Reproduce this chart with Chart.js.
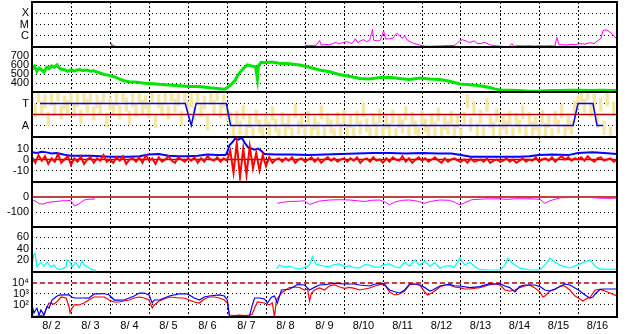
<!DOCTYPE html>
<html>
<head>
<meta charset="utf-8">
<script src="https://cdn.jsdelivr.net/npm/chart.js@4.4.1/dist/chart.umd.min.js"></script>
<style>
  html, body { margin: 0; padding: 0; background: #fff; }
  #wrap { position: relative; width: 628px; height: 334px; overflow: hidden; }
  #wrap canvas { position: absolute; left: 0; }
</style>
</head>
<body>
<div id="wrap"></div>
<script>
// x axis: hours since 8/2 00:00 UT, 15 days shown
const days = ['8/ 2','8/ 3','8/ 4','8/ 5','8/ 6','8/ 7','8/ 8','8/ 9','8/10','8/11','8/12','8/13','8/14','8/15','8/16'];

// --- X-ray flux (W/m2), [hour, value], null = no data
const xrayFlux = [
  [48.5,1.1e-7],[49,2.1e-7],[49.6,1.2e-7],[51,1.3e-7],[52,null],
  [162.8,1.2e-7],[166,null],[168,1.3e-7],[170,1.4e-7],[173,1.3e-7],[175,1.5e-7],[177,3.8e-7],[178,1.4e-7],
  [180,1.7e-7],[182.5,1.6e-7],[185,2.0e-7],[187,2.6e-7],[188.6,1.9e-7],[191,2.4e-7],[193.6,3.0e-7],
  [195.4,2.5e-7],[197,2.0e-7],[199,5.5e-7],[200.4,2.4e-7],[202,3.5e-7],[204,4.5e-7],[206,3.0e-7],
  [207.8,4.0e-7],[209.6,3.8e-6],[210.2,4.0e-7],[212.7,3.5e-7],[214.5,4.2e-7],[216.4,2.8e-6],[217.6,5.0e-7],
  [220,5.5e-7],[222,6.0e-7],[223.8,1.4e-6],[225,1.6e-6],[226.3,9.0e-7],[228,6.0e-7],[229.3,1.0e-6],
  [231,4.0e-7],[233,2.8e-7],[235,2.0e-7],[236.7,1.8e-7],[238.6,1.5e-7],[241.7,1.2e-7],[244.8,1.15e-7],
  [247.8,1.2e-7],[251,1.25e-7],[254,1.3e-7],[257,1.35e-7],[260,1.4e-7],[261.4,2.0e-7],[263.3,3.8e-7],
  [265,4.4e-7],[267.6,3.2e-7],[269.4,2.5e-7],[272,3.5e-7],[273.7,2.2e-7],[276.2,2.0e-7],[278.7,2.6e-7],
  [281.7,1.6e-7],[284.8,1.3e-7],[288,1.2e-7],[289.8,1.15e-7],[291,null],
  [294,1.2e-7],[295.3,2.0e-7],[296.5,1.2e-7],[300,1.3e-7],[303.3,1.25e-7],[306.4,1.3e-7],[309.5,1.2e-7],
  [312.6,1.3e-7],[315.6,1.25e-7],[318.7,1.3e-7],[321.8,1.2e-7],[323,7.0e-7],[324.3,1.6e-7],[326.7,1.6e-7],
  [329.2,1.5e-7],[331.7,1.7e-7],[334,1.6e-7],[337.2,2.0e-7],[340.3,1.8e-7],[343.4,2.4e-7],[345.9,2.0e-7],
  [348.3,3.8e-7],[350.2,6.0e-7],[351.4,2.9e-6],[353.2,3.3e-6],[354.4,2.8e-6],[356.3,1.8e-6],[358.1,9.0e-7],
  [360,5.0e-7]
];
const xrayTicks = [1e-6, 1e-5, 1e-4];
const xrayTickLabels = ['C', 'M', 'X'];

// --- solar wind speed (km/s)
const windSpeed = [
  [0,550],[1.5,585],[3,530],[4.3,565],[6,545],[7.4,520],[9,575],[10.5,560],[12,590],[13.6,575],[15.4,600],
  [16.5,570],[17.9,555],[20.3,545],[22,530],[24,545],[26,535],[29,550],[31,540],[34,545],[36,530],[38,535],
  [41.3,515],[44.4,495],[47.5,485],[50.6,470],[53.6,445],[56.7,425],[59.8,415],[63,410],[66,405],[69,398],
  [72,395],[78.3,385],[84.5,378],[90.6,370],[96.8,362],[103,360],[109,348],[114,340],[118.4,330],[120,345],
  [122.7,385],[125,430],[126.5,480],[127.6,510],[130,560],[132.5,600],[135,590],[137.5,580],[138.7,445],
  [139.3,590],[141,630],[143.6,625],[147.3,632],[152,620],[158.4,615],[164.6,600],[170.8,575],[177,545],
  [183,525],[189,495],[195.4,475],[201.6,450],[207.8,445],[214,460],[220,465],[226,450],[232.4,440],
  [238.6,455],[244.8,445],[251,440],[257,420],[263.3,390],[269.4,380],[275.6,370],[281.7,350],[284.8,335],
  [288,322],[294,320],[300,318],[306.4,308],[312.6,310],[318.7,318],[325,318],[331,320],[337.2,320],
  [343.4,318],[349.6,320],[360,318]
];
const speedTicks = [400, 500, 600, 700];

// --- IMF sector: T = toward (1), A = away (-1)
const sectorPolarity = [[4.9,1],[94.3,1],[98,-1],[101,1],[119.6,1],[122.2,-1],[333,-1],[336,1],[345.2,1],[347.7,-1],[351.4,-1]];
const sectorZero = [[0,0],[360,0]];
// raw field angle samples, one every 2 h
const angleStep = 2;
const angleRaw = [
  1.5,0.3,1.7,0.6,1.2,-0.4,1.4,0.5,1.8,0.2,1.1,0.7,1.6,
  0.4,1.3,-0.2,1.5,0.8,1.7,0.1,1.2,0.6,1.6,-0.5,1.0,
  0.5,1.4,0.2,1.8,0.9,-0.3,1.3,0.4,1.6,0.7,1.1,0.3,
  1.7,-0.6,1.2,0.5,1.5,0.2,1.8,0.8,1.4,-0.3,1.6,0.6,
  1.3,0.1,1.7,0.4,1.1,-0.8,1.5,0.7,1.9,0.3,1.2,0.0,
  -0.4,-1.6,-0.3,-1.2,0.2,-1.5,-0.6,-1.8,-0.2,-1.1,-1.7,-0.5,
  -1.3,0.1,-1.0,-1.9,-0.4,-1.4,-0.7,-1.8,0.3,-1.2,-0.6,-1.5,
  -0.3,-1.7,-0.8,-1.3,0.2,-1.6,-0.5,-1.1,-1.9,-0.4,-1.4,-0.2,
  -1.5,-0.6,-1.8,-0.3,-1.2,0.4,-1.0,-1.6,-0.5,-1.3,-0.1,-1.7,
  -0.7,-1.4,-0.2,-1.9,-0.6,-1.1,0.1,-1.5,-0.4,-1.2,-1.8,-0.3,
  -1.0,-1.6,-0.5,-1.3,0.0,-1.7,-0.8,-1.2,-0.3,-1.5,-0.6,-1.9,
  -0.4,1.2,-0.9,0.6,-1.4,-0.2,-1.7,0.9,-0.6,-1.3,-0.1,-1.5,
  -0.7,-1.2,-0.3,-1.8,-0.5,-1.1,0.2,-1.6,-0.4,-1.3,-0.8,-1.7,
  -0.2,-1.4,-0.6,-1.9,-0.3,-1.1,0.3,-1.5,-0.7,-1.2,0.6,1.1,
  1.7,0.8,1.9,0.4,1.3,-0.6,0.9,-1.2,1.4,-1.7,0.5,-0.9
];
const sectorTicks = [-1, 1];
const sectorTickLabels = ['A', 'T'];

// --- IMF Bt (nT)
const imfBt = [
  [0,6.5],[3,6],[6,7],[9,6.5],[12,5.5],[15,6],[18,5],[21,4],[24,3.5],[30,3.5],[36,3.5],[42,3],[48,2.5],
  [54,2.5],[60,2.5],[66,3],[72,4.5],[78,5],[84,3.5],[90,3],[96,3],[102,3.5],[108,4.5],[114,4],[119,4],
  [120,6],[121.5,13],[123.5,16],[125,19],[127,18],[129,20],[131,15],[133,11],[135,10],[137,9],[139,10],
  [141,8],[143,5],[150,4.5],[160,4.5],[170,4],[180,4.5],[190,5],[200,5.5],[210,6],[220,6],[230,5.5],
  [240,6],[250,5.5],[258,5.5],[264,4],[270,2.5],[280,2.5],[290,2.5],[300,2.5],[306,3],[312,4],[320,4.5],
  [330,4],[336,6],[345,6.5],[352,6],[360,5]
];
// --- IMF Bz (nT), one sample every 2 h
const bzStep = 2;
const imfBz = [
  2,-3,4,-1,3,-4,1,-2,5,-3,0,3,-5,
  1,-2,3,-4,0,2,-3,1,-1,4,-2,0,
  -3,2,-1,3,-4,0,1,-2,2,-3,4,-1,
  1,-4,2,-2,0,3,-1,-3,2,0,-2,1,
  -1,2,-3,1,-2,3,0,-1,2,-2,1,-1,
  8,-12,15,-16,10,-14,12,-8,6,-10,4,-6,
  2,-3,0,1,-2,1,-1,2,-3,0,1,-2,
  0,2,-2,1,-3,0,2,-1,1,-2,0,1,
  -2,1,-1,2,-3,0,1,-2,2,-1,0,-3,
  1,-2,2,0,-1,3,-2,1,-3,0,2,-1,
  1,-2,0,2,-1,-3,1,-2,0,1,-1,-2,
  0,-3,1,-2,-1,0,-2,1,-3,-1,0,-2,
  -1,1,-2,0,-3,-1,1,-2,0,-1,2,-2,
  0,1,-1,2,-2,1,3,0,2,-1,1,0,
  2,-1,3,0,-2,1,2,-1,0,1,-2,0
];
const bzZero = [[0,0],[360,0]];
const bzTicks = [-10, 0, 10];

// --- Dst index (nT)
const dstIndex = [
  [0,-20],[2.5,-30],[4.3,-45],[6.8,-47],[9.2,-38],[11.7,-33],[14.8,-30],[17.9,-26],[21,-25],[23.4,-22],
  [24.7,-35],[26,-60],[27.7,-52],[29.6,-40],[32,-20],[35,-15],[38.8,-13],[40,null],
  [151,-42],[154,-35],[158.4,-30],[164.6,-28],[167.7,-25],[170.8,-50],[173.8,-38],[177,-27],[183,-20],
  [189.3,-18],[195.4,-20],[200.4,-25],[204.7,-30],[209,-22],[214,-20],[217.6,-35],[220,-52],[223,-35],
  [227.5,-22],[232.4,-20],[237.4,-28],[241.7,-42],[244.8,-30],[251,-20],[257,-22],[260,-35],[263.3,-52],
  [266.3,-38],[270.6,-18],[278.7,-13],[288,-12],[292.2,-16],[297,-12],[306.4,-12],[312.6,-15],[315.6,-42],
  [318.7,-25],[325,-5],[334,-3],[343.4,-3],[349.6,-8],[355.7,-9],[360,-7]
];
const dstZero = [[0,0],[360,0]];
const dstTicks = [-100, 0];

// --- activity index
const activity = [
  [0,12],[1.2,30],[1.8,33],[3.1,9],[5.5,17],[7.4,10],[9.2,17],[11.7,9],[13.6,12],[15.4,5],[18.5,5],[21,9],
  [21.6,21],[23.4,17],[24.7,9],[27,17],[29,7],[30.8,19],[32,12],[34,9],[36.4,5],[39.5,2],[41,null],
  [150.4,6],[152.3,12],[155.4,9],[158.4,10],[161.5,7],[164.6,5],[167.7,8],[170.8,12],[172.6,27],[174.5,14],
  [177,12],[180,10],[183,9],[186,13],[189.3,14],[192.3,9],[195.4,11],[198.5,7],[201.6,7],[204.7,13],
  [207.8,12],[211,8],[214,9],[217,13],[220,14],[223,9],[226.3,7],[229.3,17],[232.4,10],[235.5,21],
  [238.6,12],[241.7,19],[244.8,10],[247.8,16],[251,7],[254,10],[257,11],[260,8],[263.3,24],[266.3,12],
  [269.4,17],[272.5,9],[275.6,4],[281.7,3.5],[288,3.5],[291,12],[292.8,24],[295.3,16],[300,7],[306.4,3.5],
  [312.6,3.5],[315.6,12],[318.7,24],[321.8,17],[325,12],[331,7],[337.2,14],[343.4,21],[346.5,10],
  [349.6,5],[360,5]
];
const activityTicks = [20, 40, 60];

// --- electron flux, two channels
const electronBlue = [
  [0,100],[1.2,18],[2.5,40],[3.1,50],[4.3,12],[5.5,35],[7.4,12],[9.2,70],[10.5,53],[12.3,280],[14.8,560],
  [16.6,800],[19.7,810],[22.8,810],[24.7,500],[26,430],[29,430],[32,430],[35,420],[38.2,1000],[41.3,1000],
  [44.4,1100],[47.5,800],[50.6,280],[53.6,280],[56.7,283],[59.8,430],[62.9,650],[66,1200],[69,1230],
  [72,810],[74,150],[75.2,283],[78.3,283],[81.4,430],[84.5,650],[90.6,1000],[95.6,1000],[99.9,430],
  [103,283],[106,530],[109,650],[115.3,810],[118.4,650],[120.2,283],[121.5,9],[124.5,9],[127.6,9],
  [130.7,9.5],[133.8,9],[135.6,100],[137,430],[140,430],[143,350],[144.9,151],[147.3,500],[149.2,650],
  [151,151],[153.5,2300],[158.4,2700],[163.4,7200],[167.7,6570],[170.8,2300],[173.8,4000],[177,6570],
  [180,7000],[183,8100],[186,9600],[189.3,8800],[192.3,8100],[198.5,8100],[201.6,6570],[207.8,5330],
  [211,8100],[214,8800],[215.8,9600],[220,2300],[223.2,1600],[226.3,1230],[229.3,2300],[232.4,8100],
  [235.5,8100],[238.6,6570],[241.7,3800],[244.8,1870],[246.6,2300],[251,5330],[254,6570],[257,7500],
  [260,5300],[263.3,5330],[269.4,3800],[275.6,4700],[281.7,8800],[284.8,8100],[288,8800],[291,5330],
  [294,3800],[297.2,1520],[300,4700],[303.3,6570],[309.5,6570],[312.6,4700],[315.6,2300],[318.7,1870],
  [321.8,2800],[325,4700],[327.8,8100],[331,6570],[334.2,3500],[337.2,1870],[340.3,810],[343.4,430],
  [345.2,530],[346.5,1000],[349.6,2600],[352.6,2840],[360,2840]
];
const electronRed = [
  [0,12],[1.2,8.5],[4.3,10],[7.4,12],[9.2,65],[10.5,151],[13.6,122],[15.4,200],[17.9,530],[21,430],
  [22.8,65],[23.4,20],[24.7,53],[26,100],[29,100],[32,151],[35,283],[38.2,530],[41.3,530],[44.4,530],
  [47.5,283],[50.6,186],[53.6,186],[56.7,230],[59.8,283],[62.9,430],[66,530],[69,430],[72,283],[74,53],
  [75.2,100],[78.3,230],[81.4,350],[84.5,530],[90.6,430],[93.7,430],[96.8,283],[99.9,186],[103,151],
  [106,350],[109,530],[112.2,530],[115.3,430],[118.4,283],[120.2,151],[121.5,12],[124.5,11],[127.6,12],
  [130.7,11],[133.8,12],[135.6,15],[137,53],[138.7,186],[143,151],[146,100],[147.9,151],[149.2,8],
  [150.4,283],[153.5,1230],[158.4,3900],[161.5,4300],[164.6,3900],[167.7,2300],[169.6,2840],[170.8,230],
  [172,1230],[173.8,2300],[177,3500],[180,2300],[183,5330],[186,7000],[189.3,4300],[192.3,3200],
  [195.4,3900],[198.5,3200],[201.6,2300],[204.7,2840],[207.8,3500],[211,5330],[214,7000],[217,8100],
  [220,1500],[223.2,810],[226.3,1000],[229.3,1870],[232.4,7000],[235.5,8100],[238.6,6570],[241.7,1500],
  [243.5,810],[246,1230],[247.8,1870],[251,4300],[254,6570],[257,6570],[260,4300],[263.3,3800],
  [266.3,2840],[269.4,2840],[275.6,3800],[281.7,7000],[284.8,8100],[288,6570],[291,2300],[294,1870],
  [297.2,2300],[300,3800],[303.3,5330],[306.4,6570],[309.5,3500],[312.6,1500],[314.4,530],[315.6,650],
  [318.7,1870],[321.8,2600],[325,5330],[327.8,5330],[331,2300],[334.2,650],[337.2,350],[339,230],
  [341.5,400],[343.4,470],[346.5,2300],[349.6,2600],[352.6,1870],[355.7,1230],[360,650]
];
const fluxAlert = [[0,1e4],[360,1e4]];
const fluxTicks = [1e2, 1e3, 1e4];
const fluxTickLabels = ['10\u00b2', '10\u00b3', '10\u2074'];

Chart.defaults.font.family = "'Liberation Sans', Arial, sans-serif";
Chart.defaults.font.size = 11;
Chart.defaults.color = '#000';

const pairs = arr => arr.map(p => ({x: p[0], y: p[1]}));
const stepped = (vals, step) => vals.map((v, i) => ({x: i * step, y: v}));

// black box round every panel
const frame = {
  id: 'frame',
  afterDraw(chart) {
    const {ctx, chartArea: a} = chart;
    ctx.save();
    ctx.strokeStyle = '#000';
    ctx.lineWidth = 2;
    ctx.strokeRect(a.left, a.top, a.right - a.left, a.bottom - a.top);
    ctx.restore();
  }
};

const wrap = document.getElementById('wrap');

function line(data, color, width, extra) {
  return Object.assign({data, borderColor: color, borderWidth: width, pointRadius: 0, tension: 0, spanGaps: false}, extra || {});
}

function makePanel(idx, datasets, y, last) {
  const canvas = document.createElement('canvas');
  const h = last ? 63 : 47;
  canvas.width = 628;
  canvas.height = h;
  canvas.style.width = '628px';
  canvas.style.height = h + 'px';
  canvas.style.top = (1 + 45 * idx) + 'px';
  wrap.appendChild(canvas);

  const yTicks = y.ticks;
  const yLabels = y.labels;
  const hideAt = y.hideGridAt;

  return new Chart(canvas, {
    type: 'line',
    data: {datasets},
    options: {
      animation: false,
      responsive: false,
      devicePixelRatio: 1,
      layout: {autoPadding: false, padding: {top: 1, bottom: last ? 0 : 1, left: 0, right: 11}},
      plugins: {legend: {display: false}, tooltip: {enabled: false}},
      scales: {
        x: {
          type: 'linear', min: 0, max: 360,
          afterBuildTicks: s => {
            const t = [];
            for (let v = 0; v <= 360; v += (last ? 12 : 24)) t.push({value: v});
            s.ticks = t;
          },
          afterFit: s => { s.height = last ? 17 : 0; s.paddingLeft = 0; s.paddingRight = 0; },
          grid: {
            color: c => (c.tick && c.tick.value % 24 === 0) ? '#000' : 'rgba(0,0,0,0)',
            lineWidth: 1, drawTicks: false
          },
          border: {display: false, dash: [2, 2]},
          ticks: {
            display: !!last, autoSkip: false, maxRotation: 0, padding: 2,
            callback: v => (v % 24 === 12) ? days[(v - 12) / 24] : ''
          }
        },
        y: {
          type: y.type || 'linear', min: y.min, max: y.max,
          afterBuildTicks: s => { s.ticks = yTicks.map(v => ({value: v})); },
          afterFit: s => { s.width = 32; s.paddingTop = 0; s.paddingBottom = 0; },
          grid: {
            color: c => (hideAt !== undefined && c.tick && c.tick.value === hideAt) ? 'rgba(0,0,0,0)' : '#000',
            lineWidth: 1, drawTicks: false
          },
          border: {display: false, dash: [1, 3]},
          ticks: {
            padding: 3, autoSkip: false,
            callback: (v, i) => yLabels ? yLabels[i] : String(v)
          }
        }
      }
    },
    plugins: [frame]
  });
}

// 1: X-ray class
makePanel(0, [line(pairs(xrayFlux), '#ff00ff', 1)],
  {type: 'logarithmic', min: 1e-7, max: 1e-3, ticks: xrayTicks, labels: xrayTickLabels});

// 2: solar wind speed
makePanel(1, [line(pairs(windSpeed), '#00e600', 3)],
  {min: 300, max: 800, ticks: speedTicks});

// 3: sector, raw samples drawn as short vertical dashes
makePanel(2, [
  line(pairs(sectorPolarity), '#0000ff', 1.5),
  line(pairs(sectorZero), '#b40000', 1.5),
  {
    data: stepped(angleRaw, angleStep), showLine: false,
    pointStyle: 'line', rotation: 90, pointRadius: 7,
    pointBorderWidth: 3.3, pointBorderColor: '#f8e7a2', pointBackgroundColor: '#f8e7a2'
  }
], {min: -2.05, max: 2.05, ticks: sectorTicks, labels: sectorTickLabels});

// 4: IMF
makePanel(3, [
  line(stepped(imfBz, bzStep), '#ff0000', 2),
  line(pairs(imfBt), '#0000ff', 2),
  line(pairs(bzZero), '#b40000', 1.5)
], {min: -20.5, max: 20.5, ticks: bzTicks});

// 5: Dst
makePanel(4, [
  line(pairs(dstIndex), '#ff00ff', 1),
  line(pairs(dstZero), '#b40000', 1.5)
], {min: -200, max: 100, ticks: dstTicks, hideGridAt: 0});

// 6: activity
makePanel(5, [line(pairs(activity), '#00ffff', 1.2)],
  {min: 0, max: 78, ticks: activityTicks});

// 7: electron flux
makePanel(6, [
  line(pairs(electronBlue), '#0000ff', 1.2),
  line(pairs(electronRed), '#ff0000', 1.2),
  line(pairs(fluxAlert), '#b40000', 1.5, {borderDash: [5, 3]})
], {type: 'logarithmic', min: 8, max: 1e5, ticks: fluxTicks, labels: fluxTickLabels, hideGridAt: 1e4}, true);
</script>
</body>
</html>
